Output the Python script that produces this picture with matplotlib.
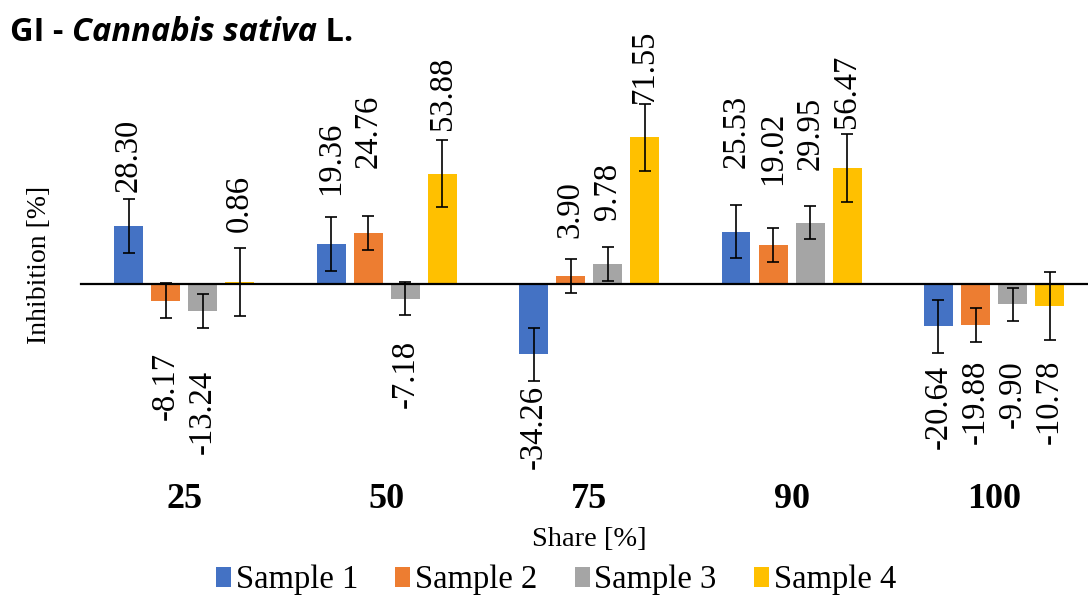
import numpy as np
import matplotlib.pyplot as plt

# ---- data ----
categories = ["25", "50", "75", "90", "100"]
series = ["Sample 1", "Sample 2", "Sample 3", "Sample 4"]

sample1 = [28.30, 19.36, -34.26, 25.53, -20.64]
sample2 = [-8.17, 24.76, 3.90, 19.02, -19.88]
sample3 = [-13.24, -7.18, 9.78, 29.95, -9.90]
sample4 = [0.86, 53.88, 71.55, 56.47, -10.78]

err1 = [13.2, 13.1, 13.0, 12.8, 13.0]
err2 = [8.4, 8.4, 8.1, 8.3, 8.3]
err3 = [8.1, 8.0, 8.1, 8.0, 8.1]
err4 = [16.5, 16.4, 16.4, 16.6, 16.6]

# where each value label sits (y units), labels were placed by hand
label_y1 = [45.0, 43.4, -49.3, 56.6, -39.5]
label_y2 = [-33.0, 56.6, 22.4, 48.3, -37.1]
label_y3 = [-42.0, -27.3, 31.2, 55.6, -37.1]
label_y4 = [25.5, 75.1, 88.3, 76.1, -37.1]

colors = ["#4472C4", "#ED7D31", "#A5A5A5", "#FFC000"]

values = [sample1, sample2, sample3, sample4]
errors = [err1, err2, err3, err4]
label_y = [label_y1, label_y2, label_y3, label_y4]

serif = "Liberation Serif"

fig = plt.figure(figsize=(10.88, 5.97), dpi=100)
ax = fig.add_axes([0.0, 1 - 475 / 597, 1.0, 445 / 597])
ax.set_xlim(-0.5 - 83 / 202.5, 4.464)
ax.set_ylim(-93.2, 123.9)

x = np.arange(len(categories))
width = 0.143
step = 0.183

for i, (vals, errs, ly) in enumerate(zip(values, errors, label_y)):
    pos = x + (i - 1.5) * step
    ax.bar(pos, vals, width, color=colors[i], label=series[i], zorder=2)
    ax.errorbar(pos, vals, yerr=errs, fmt="none", ecolor="black",
                elinewidth=1.2, capsize=4, capthick=1.2, zorder=3)
    for px, v, yy in zip(pos, vals, ly):
        ax.text(px, yy, f"{v:.2f}", rotation=90, ha="center",
                va="bottom" if v >= 0 else "top",
                fontsize=23.5, family=serif, zorder=4)

# zero line
ax.plot([-0.5 - 1.5 / 202.5, 4.464], [0, 0], color="black", lw=1.6, zorder=3)

for s in ax.spines.values():
    s.set_visible(False)
ax.set_yticks([])
ax.set_xticks(x)
ax.set_xticklabels(categories, fontsize=26, fontweight="bold", family=serif)
ax.tick_params(axis="x", length=0, pad=6)

fig.text(589 / 1088, 1 - 540 / 597, "Share [%]", ha="center", va="center",
         fontsize=20.5, family=serif)
fig.text(40 / 1088, 1 - 265 / 597, "Inhibition [%]", ha="center", va="center",
         rotation=90, fontsize=20, family=serif)

fig.legend(loc="center", bbox_to_anchor=(556 / 1088, 1 - 580 / 597), ncol=4,
           frameon=False, prop={"family": serif, "size": 23.5},
           handlelength=0.45, handleheight=0.55, handletextpad=0.15,
           columnspacing=1.15, borderaxespad=0)

# title with italic species name
ty = 1 - 41 / 597
tsize = 23.5
t1 = fig.text(10 / 1088, ty, "GI - ", fontsize=tsize,
              fontweight="bold", family="Open Sans", va="baseline")
t2 = fig.text(0, ty, "Cannabis sativa", fontsize=tsize, fontweight="bold",
              style="italic", family="Open Sans", va="baseline")
fig.canvas.draw()
r = fig.canvas.get_renderer()
bb = t1.get_window_extent(r)
t2.set_position((bb.x1 / fig.bbox.width, ty))
fig.canvas.draw()
bb2 = t2.get_window_extent(r)
fig.text(bb2.x1 / fig.bbox.width, ty, " L.", fontsize=tsize,
         fontweight="bold", family="Open Sans", va="baseline")

fig.savefig("out.png", dpi=100)
